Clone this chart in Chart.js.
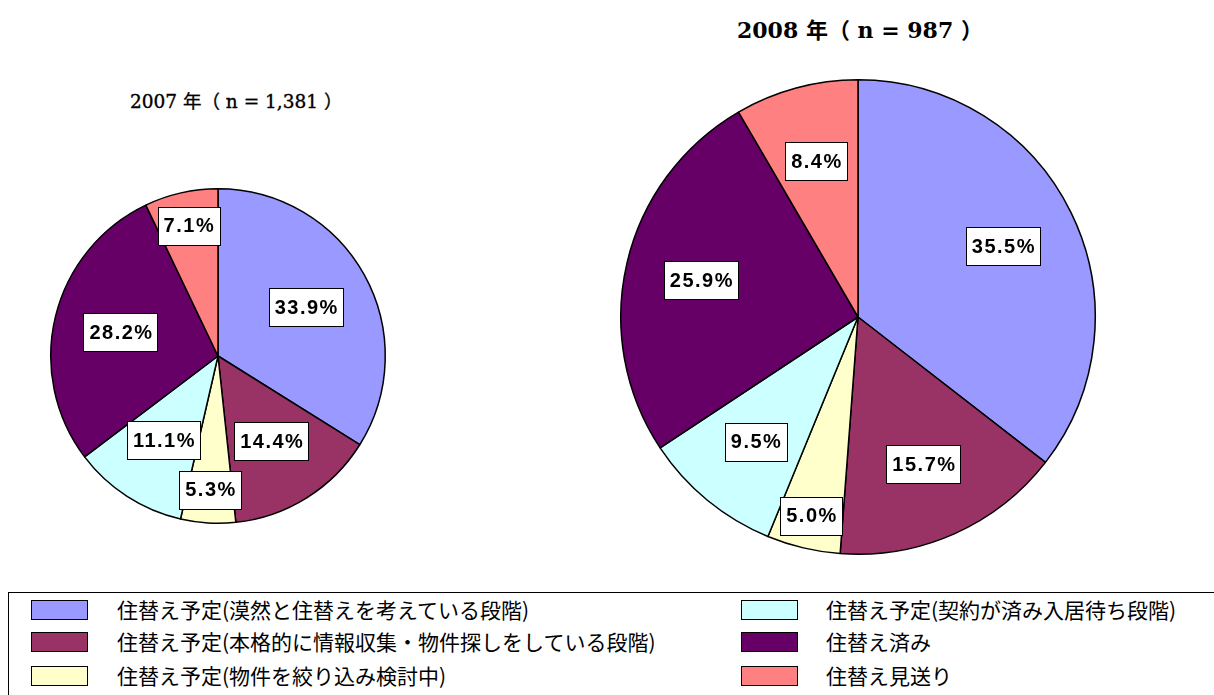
<!DOCTYPE html>
<html>
<head>
<meta charset="utf-8">
<script src="https://cdn.jsdelivr.net/npm/chart.js@4/dist/chart.umd.min.js"></script>
<style>
  html, body { margin: 0; padding: 0; background: #fff; width: 1214px; height: 695px; overflow: hidden; position: relative; }
  canvas { position: absolute; }
  .title { position: absolute; font-family: "DejaVu Serif", "Noto Sans CJK JP", serif; color: #000; white-space: nowrap; }
  .title .cjk { font-family: "Noto Sans CJK JP", sans-serif; }
  #legend { position: absolute; left: 8px; top: 592px; width: 1230px; height: 120px; border: 1.5px solid #000; box-sizing: border-box; }
  .item { position: absolute; height: 22px; font-family: "Noto Sans CJK JP", sans-serif; font-size: 21px; line-height: 22px; color: #000; white-space: nowrap; }
  .sw { position: absolute; width: 57px; height: 20px; border: 1.5px solid #000; box-sizing: border-box; }
</style>
</head>
<body>
<div class="title" id="t2007" style="left:130px; top:87px; font-size:18.5px; -webkit-text-stroke:0.35px #000;"></div>
<div class="title" id="t2008" style="left:737px; top:12px; font-size:22px; font-weight:bold;"></div>
<canvas id="c2007" width="340" height="340" style="left:48px; top:186px;"></canvas>
<canvas id="c2008" width="480" height="480" style="left:618px; top:77px;"></canvas>
<div id="legend"></div>
<script>
const categories = [
  '住替え予定(漠然と住替えを考えている段階)',
  '住替え予定(本格的に情報収集・物件探しをしている段階)',
  '住替え予定(物件を絞り込み検討中)',
  '住替え予定(契約が済み入居待ち段階)',
  '住替え済み',
  '住替え見送り'
];
const values2007 = [33.9, 14.4, 5.3, 11.1, 28.2, 7.1];
const values2008 = [35.5, 15.7, 5.0, 9.5, 25.9, 8.4];
const colors = ['#9999FF', '#993366', '#FFFFCC', '#CCFFFF', '#660066', '#FF8080'];
const titleYear2007 = '2007';
const titleN2007 = '1,381';
const titleYear2008 = '2008';
const titleN2008 = '987';

document.getElementById('t2007').innerHTML = titleYear2007 + ' <span class="cjk">年（</span> n = ' + titleN2007 + ' <span class="cjk">）</span>';
document.getElementById('t2008').innerHTML = titleYear2008 + ' <span class="cjk">年（</span> n = ' + titleN2008 + ' <span class="cjk">）</span>';

// legend
const legend = document.getElementById('legend');
categories.forEach((cat, i) => {
  const col = i < 3 ? 0 : 1;
  const row = i % 3;
  const rowTops = [7, 39, 73];
  const swX = col === 0 ? 22 : 732;
  const txX = col === 0 ? 108 : 817;
  const sw = document.createElement('div');
  sw.className = 'sw';
  sw.style.left = swX + 'px';
  sw.style.top = rowTops[row] + 'px';
  sw.style.background = colors[i];
  legend.appendChild(sw);
  const tx = document.createElement('div');
  tx.className = 'item';
  tx.style.left = txX + 'px';
  tx.style.top = (rowTops[row] - 2) + 'px';
  tx.textContent = cat;
  legend.appendChild(tx);
});

const labelPlugin = {
  id: 'boxLabels',
  afterDatasetsDraw(chart, args, opts) {
    const ctx = chart.ctx;
    const meta = chart.getDatasetMeta(0);
    const data = chart.data.datasets[0].data;
    ctx.save();
    ctx.font = 'bold 20px "Liberation Sans", Arial, sans-serif';
    ctx.letterSpacing = '1.5px';
    ctx.textAlign = 'center';
    ctx.textBaseline = 'middle';
    meta.data.forEach((arc, i) => {
      const p = arc.getProps(['x', 'y', 'startAngle', 'endAngle', 'outerRadius'], true);
      const mid = (p.startAngle + p.endAngle) / 2;
      const frac = data[i] < 8 ? opts.small : opts.base;
      const cx = p.x + Math.cos(mid) * p.outerRadius * frac;
      const cy = p.y + Math.sin(mid) * p.outerRadius * frac;
      const txt = data[i].toFixed(1) + '%';
      const w = ctx.measureText(txt).width + 10;
      const h = 38;
      const x0 = Math.round(cx - w / 2) + 0.5, y0 = Math.round(cy - h / 2) + 0.5;
      ctx.fillStyle = '#fff';
      ctx.fillRect(x0, y0, Math.round(w), h);
      ctx.strokeStyle = '#000';
      ctx.lineWidth = 1;
      ctx.strokeRect(x0, y0, Math.round(w), h);
      ctx.fillStyle = '#000';
      ctx.fillText(txt, cx + 1, cy + 1);
    });
    ctx.restore();
  }
};

function makePie(id, values, base, small) {
  return new Chart(document.getElementById(id), {
    type: 'pie',
    data: {
      labels: categories,
      datasets: [{
        data: values,
        backgroundColor: colors,
        borderColor: '#000',
        borderWidth: 1.5
      }]
    },
    options: {
      responsive: false,
      animation: false,
      layout: { padding: 2 },
      plugins: {
        legend: { display: false },
        tooltip: { enabled: false },
        boxLabels: { base: base, small: small }
      }
    },
    plugins: [labelPlugin]
  });
}

makePie('c2007', values2007, 0.6, 0.8);
makePie('c2008', values2008, 0.68, 0.86);
</script>
</body>
</html>
